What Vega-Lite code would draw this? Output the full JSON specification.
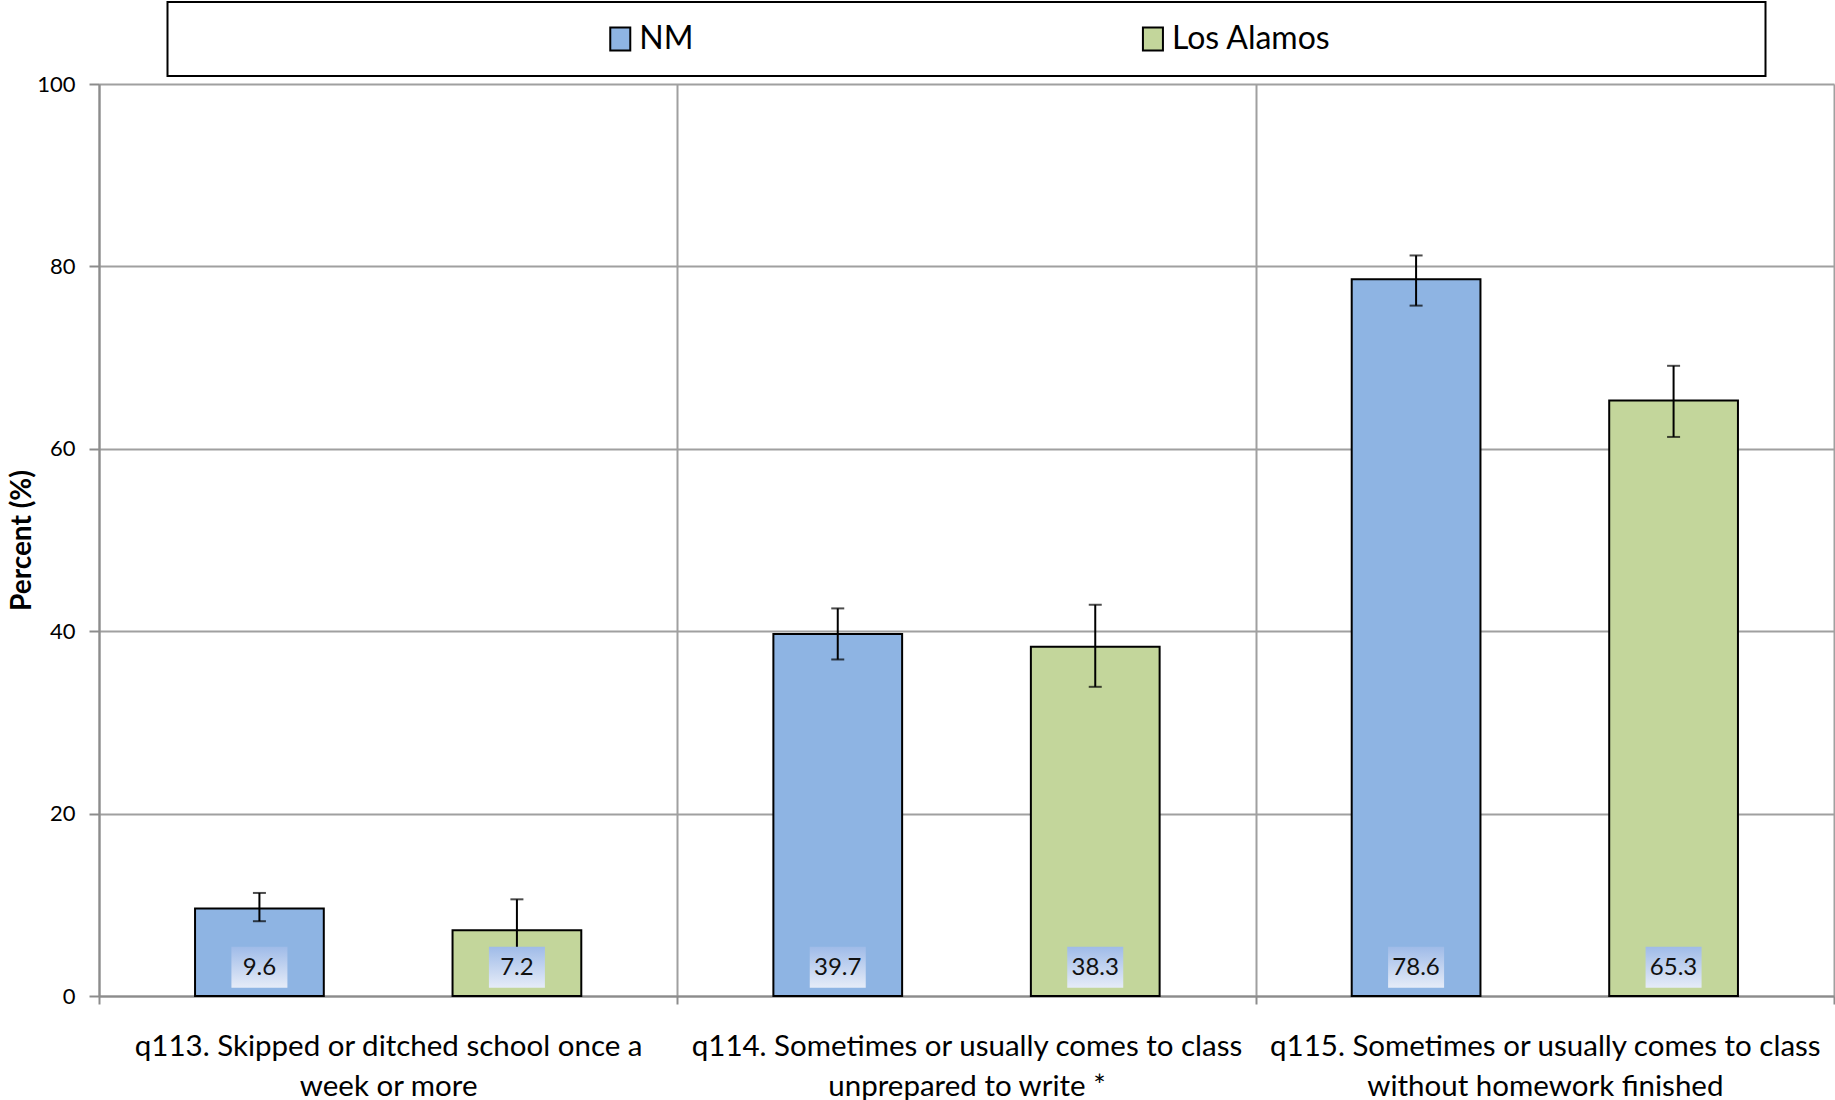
{
  "$schema": "https://vega.github.io/schema/vega-lite/v6.json",
  "background": "white",
  "padding": {"left": 8, "top": 1, "right": 0, "bottom": 0},
  "spacing": 8,
  "bounds": "flush",
  "center": true,
  "resolve": {"scale": {"x": "independent", "fill": "shared"}},
  "config": {
    "font": "Lato",
    "view": {"stroke": null},
    "axis": {
      "domainColor": "#8c8c8c",
      "domainWidth": 2,
      "tickColor": "#8c8c8c",
      "tickWidth": 2,
      "gridColor": "#a0a0a0",
      "gridWidth": 2,
      "labelColor": "#000",
      "titleColor": "#000",
      "labelFont": "Lato",
      "titleFont": "Lato"
    }
  },
  "vconcat": [
    {
      "width": 1598,
      "height": 74,
      "view": {"stroke": "#000", "strokeWidth": 2},
      "data": {"values": [{"series": "NM"}, {"series": "Los Alamos"}]},
      "encoding": {
        "x": {"field": "series", "type": "nominal", "sort": ["NM", "Los Alamos"], "scale": {"type": "point", "padding": 1.017, "align": 0.425}, "axis": null}
      },
      "layer": [
        {
          "mark": {"type": "point", "shape": "M-0.87,-1H0.87V1H-0.87Z", "size": 529, "filled": true, "stroke": "#000", "strokeWidth": 2, "opacity": 1},
          "encoding": {
            "fill": {"field": "series", "type": "nominal", "scale": {"domain": ["NM", "Los Alamos"], "range": ["#8eb4e3", "#c3d69b"]}, "legend": null}
          }
        },
        {
          "mark": {"type": "text", "align": "left", "baseline": "middle", "dx": 19, "fontSize": 32, "font": "Lato", "color": "#000"},
          "encoding": {"text": {"field": "series", "type": "nominal"}}
        }
      ]
    },
    {
      "width": 1735,
      "height": 912,
      "data": {
        "values": [
          {"question": "q113. Skipped or ditched school once a\nweek or more", "series": "NM", "percent": 9.6, "lower": 8.2, "upper": 11.3},
          {"question": "q113. Skipped or ditched school once a\nweek or more", "series": "Los Alamos", "percent": 7.2, "lower": 3.8, "upper": 10.6},
          {"question": "q114. Sometimes or usually comes to class\nunprepared to write *", "series": "NM", "percent": 39.7, "lower": 36.9, "upper": 42.5},
          {"question": "q114. Sometimes or usually comes to class\nunprepared to write *", "series": "Los Alamos", "percent": 38.3, "lower": 33.9, "upper": 42.9},
          {"question": "q115. Sometimes or usually comes to class\nwithout homework finished", "series": "NM", "percent": 78.6, "lower": 75.7, "upper": 81.2},
          {"question": "q115. Sometimes or usually comes to class\nwithout homework finished", "series": "Los Alamos", "percent": 65.3, "lower": 61.3, "upper": 69.1}
        ]
      },
      "encoding": {
        "x": {
          "field": "question", "type": "nominal", "sort": null,
          "scale": {"paddingInner": 0, "paddingOuter": 0},
          "axis": {
            "title": null, "labelAngle": 0, "grid": true, "tickBand": "extent",
            "tickSize": 8, "labelPadding": 28, "labelFontSize": 29.5, "labelLineHeight": 40,
            "labelLimit": 700, "labelExpr": "split(datum.label, '\\n')"
          }
        },
        "xOffset": {"field": "series", "type": "nominal", "sort": ["NM", "Los Alamos"], "scale": {"paddingInner": 0.5, "paddingOuter": 0.373}}
      },
      "layer": [
        {
          "mark": {"type": "bar", "stroke": "#000", "strokeWidth": 2},
          "encoding": {
            "y": {
              "field": "percent", "type": "quantitative",
              "scale": {"domain": [0, 100], "nice": false},
              "axis": {
                "title": "Percent (%)", "titleFontSize": 28, "titleFontWeight": "bold", "titlePadding": 0,
                "values": [0, 20, 40, 60, 80, 100], "labelFontSize": 22, "labelPadding": 14, "tickSize": 10, "grid": true
              }
            },
            "fill": {"field": "series", "type": "nominal", "scale": {"domain": ["NM", "Los Alamos"], "range": ["#8eb4e3", "#c3d69b"]}, "legend": null}
          }
        },
        {
          "mark": {"type": "rule", "color": "#000", "strokeWidth": 2},
          "encoding": {
            "y": {"field": "lower", "type": "quantitative"},
            "y2": {"field": "upper"}
          }
        },
        {
          "mark": {"type": "tick", "color": "#000", "thickness": 2, "size": 13, "orient": "horizontal"},
          "encoding": {"y": {"field": "lower", "type": "quantitative"}}
        },
        {
          "mark": {"type": "tick", "color": "#000", "thickness": 2, "size": 13, "orient": "horizontal"},
          "encoding": {"y": {"field": "upper", "type": "quantitative"}}
        },
        {
          "mark": {
            "type": "bar", "width": 56,
            "color": {"gradient": "linear", "x1": 0, "y1": 0, "x2": 0, "y2": 1, "stops": [{"offset": 0, "color": "#9fbbe8"}, {"offset": 1, "color": "#e6ecf8"}]}
          },
          "encoding": {
            "y": {"datum": 5.4, "type": "quantitative"},
            "y2": {"datum": 0.9}
          }
        },
        {
          "mark": {"type": "text", "fontSize": 24, "font": "Lato", "color": "#111", "baseline": "middle"},
          "encoding": {
            "y": {"datum": 3.1, "type": "quantitative"},
            "text": {"field": "percent", "type": "quantitative", "format": ".1f"}
          }
        }
      ]
    }
  ]
}
